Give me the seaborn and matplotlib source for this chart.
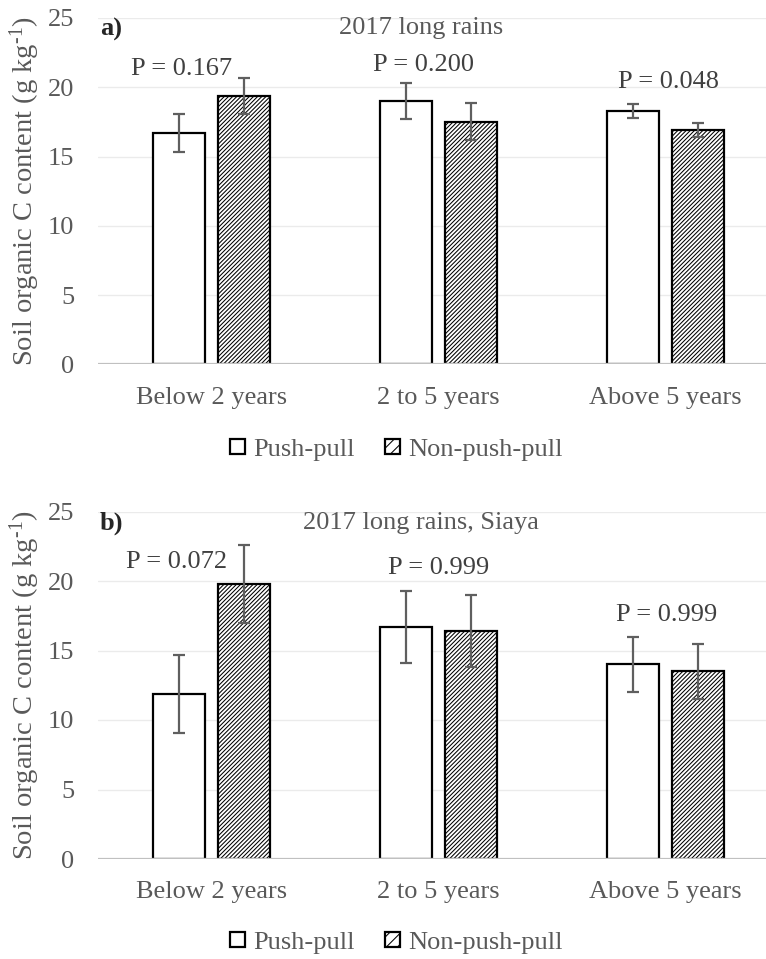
import matplotlib
matplotlib.use("Agg")
import matplotlib.pyplot as plt
from matplotlib.patches import Patch
from matplotlib.container import BarContainer
import seaborn as sns
import pandas as pd

# ---- data ----
categories = ["Below 2 years", "2 to 5 years", "Above 5 years"]
groups = ["Push-pull", "Non-push-pull"]

a_push = [16.7, 19.0, 18.3]
a_push_err = [1.35, 1.3, 0.5]
a_non = [19.4, 17.5, 16.9]
a_non_err = [1.3, 1.33, 0.5]
a_pvals = ["P = 0.167", "P = 0.200", "P = 0.048"]
a_pval_x = [-0.134, 0.936, 2.015]
a_pval_y = [21.3, 21.6, 20.4]

b_push = [11.9, 16.7, 14.0]
b_push_err = [2.8, 2.6, 2.0]
b_non = [19.8, 16.4, 13.5]
b_non_err = [2.8, 2.6, 2.0]
b_pvals = ["P = 0.072", "P = 0.999", "P = 0.999"]
b_pval_x = [-0.153, 1.0, 2.007]
b_pval_y = [21.4, 20.9, 17.55]

yticks = [0, 5, 10, 15, 20, 25]

sns.set_theme(style="white")
plt.rcParams["font.family"] = ["Liberation Serif", "DejaVu Serif"]
plt.rcParams["mathtext.fontset"] = "custom"
plt.rcParams["mathtext.rm"] = "Liberation Serif"
plt.rcParams["mathtext.it"] = "Liberation Serif:italic"
plt.rcParams["hatch.linewidth"] = 0.75
plt.rcParams["hatch.color"] = "black"

TXT = "#595959"
FS = 19

fig = plt.figure(figsize=(7.66, 9.59), dpi=100)
ax1 = fig.add_axes([98 / 766, 1 - 364.3 / 959, 668 / 766, 346.3 / 959])
ax2 = fig.add_axes([98 / 766, 1 - 859 / 959, 668 / 766, 347.5 / 959])

HATCH = "////////"


def panel(ax, push, push_err, non, non_err, pvals, px, py, letter, title, title_y, letter_y, leg_y):
    df = pd.DataFrame({
        "cat": categories * 2,
        "grp": [groups[0]] * 3 + [groups[1]] * 3,
        "val": push + non,
    })
    errs = [push_err, non_err]
    sns.barplot(data=df, x="cat", y="val", hue="grp", order=categories, hue_order=groups,
                palette=["white", "white"], edgecolor="black", linewidth=1.6,
                width=0.57, gap=0.2, errorbar=None, legend=False, ax=ax, zorder=2)
    bar_conts = [c for c in ax.containers if isinstance(c, BarContainer)]
    for ci, cont in enumerate(bar_conts):
        xs, ys = [], []
        for p in cont.patches:
            if ci == 1:
                p.set_hatch(HATCH)
            xs.append(p.get_x() + p.get_width() / 2)
            ys.append(p.get_height())
        ax.errorbar(xs, ys, yerr=errs[ci], fmt="none", ecolor="#5f5f5f",
                    elinewidth=1.6, capsize=4.5, capthick=1.6, zorder=3)
    ax.set_xlim(-0.5, (766 - 211.5) / 227)
    ax.set_ylim(0, 25)
    ax.set_yticks(yticks)
    ax.yaxis.grid(True, color="#ebebeb", lw=1.0)
    ax.set_axisbelow(True)
    ax.axhline(0, color="#c0c0c0", lw=1.6, zorder=4)
    for s in ax.spines.values():
        s.set_visible(False)
    ax.tick_params(axis="both", length=0, labelsize=FS, labelcolor=TXT)
    ax.tick_params(axis="y", pad=17)
    ax.tick_params(axis="x", pad=16)
    ax.set_xlabel("")
    ax.set_ylabel(r"Soil organic C content (g kg$^{\mathregular{\text{-1}}}$)", fontsize=20.5,
                  color=TXT, va="center")
    ax.yaxis.set_label_coords(-0.109, 0.5)
    for t, x, y in zip(pvals, px, py):
        ax.text(x, y, t, ha="center", va="center", fontsize=FS, color="#404040")
    ax.text(0.923, title_y, title, ha="center", va="center", fontsize=FS, color=TXT)
    ax.text(0.003, letter_y, letter, transform=ax.transAxes, ha="left", va="center",
            fontsize=FS, fontweight="bold", color="#262626")
    handles = [Patch(facecolor="white", edgecolor="black", linewidth=1.6, label=groups[0]),
               Patch(facecolor="white", edgecolor="black", linewidth=1.6, hatch="///", label=groups[1])]
    ax.legend(handles=handles, loc="center", bbox_to_anchor=(0.446, leg_y), ncol=2,
              frameon=False, fontsize=FS, handlelength=0.58, handleheight=0.5,
              handletextpad=0.3, columnspacing=1.15, labelcolor=TXT)


panel(ax1, a_push, a_push_err, a_non, a_non_err, a_pvals, a_pval_x, a_pval_y,
      "a)", "2017 long rains", 24.3, 0.968, -0.2475)
panel(ax2, b_push, b_push_err, b_non, b_non_err, b_pvals, b_pval_x, b_pval_y,
      "b)", "2017 long rains, Siaya", 24.2, 0.967, -0.2417)

fig.savefig("out.png", dpi=100)
